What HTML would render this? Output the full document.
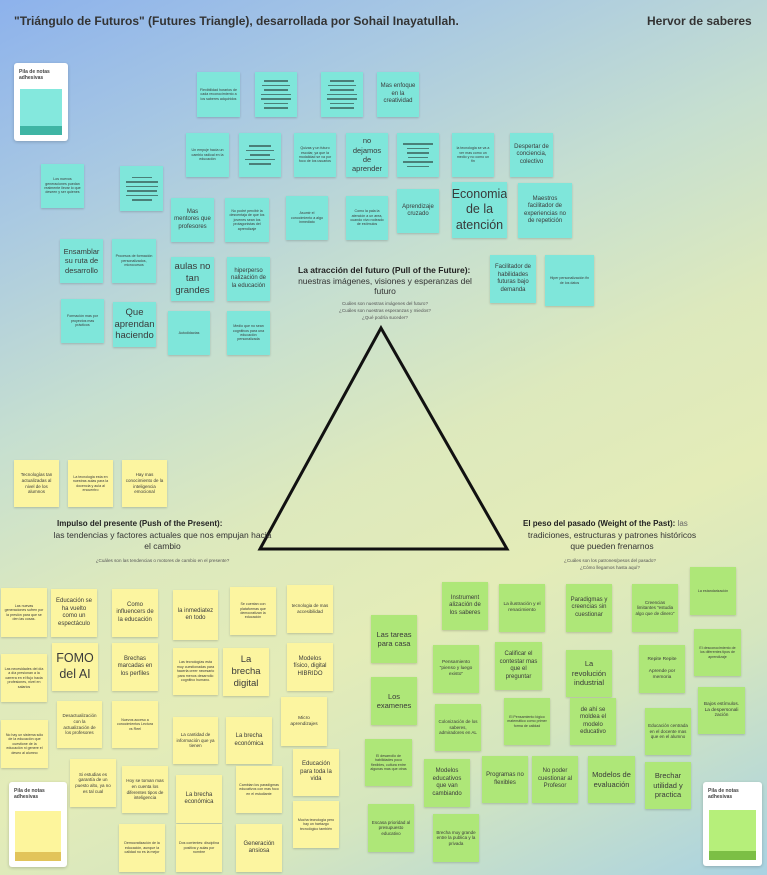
<!DOCTYPE html>
<html><head><meta charset="utf-8"><style>
*{margin:0;padding:0;box-sizing:border-box}
body{width:767px;height:875px;overflow:hidden;position:relative;font-family:"Liberation Sans",sans-serif;color:#333;
background:linear-gradient(155deg,#8db2ec 0%,#a9c9e2 18%,#c6dfd0 36%,#dde9bd 52%,#e4ecb8 66%,#d5e6bf 80%,#a9d2e2 100%);}
.n{position:absolute;display:flex;align-items:center;justify-content:center;text-align:center;line-height:1.25;padding:2px 3px;box-shadow:0 1px 2px rgba(0,0,0,.18);color:#3a3a3a;overflow:hidden;overflow-wrap:break-word}
.t{background:#7fe6da}.y{background:#fcf5a0}.g{background:#aee778}
.s{font-size:3.6px}.m{font-size:6px}.l{font-size:7.5px}.xl{font-size:9.5px}.xxl{font-size:12.5px}
.bars{flex-direction:column;gap:3px}.bars i{display:block;height:1.5px;background:#4a7f78}
.pile{position:absolute;background:#fff;border-radius:3px;box-shadow:0 1px 3px rgba(0,0,0,.2);font-size:5px;font-weight:bold;color:#444;padding:6px 5px}
.pile div{position:absolute;left:6px;right:6px;bottom:6px;height:46px}
.h{position:absolute;white-space:nowrap}
</style></head><body>
<div class="h" style="left:14px;top:14px;font-size:12px;font-weight:bold;color:#333">"Triángulo de Futuros" (Futures Triangle), desarrollada por Sohail Inayatullah.</div>
<div class="h" style="left:647px;top:14px;font-size:12px;font-weight:bold;color:#333">Hervor de saberes</div>

<div class="pile" style="left:14px;top:63px;width:54px;height:78px">Pila de notas<br>adhesivas<div style="background:linear-gradient(#84e8dd 80%,#3fb5a4 80%)"></div></div>

<div class="n t s" style="left:197px;top:72px;width:43px;height:45px">Flexibilidad horarios de cada reconocimiento a los saberes adquiridos</div>
<div class="n t bars" style="left:255px;top:72px;width:42px;height:45px"><i style="width:24px"></i><i style="width:28px"></i><i style="width:24px"></i><i style="width:30px"></i><i style="width:30px"></i><i style="width:24px"></i><i style="width:24px"></i></div>
<div class="n t bars" style="left:321px;top:72px;width:42px;height:45px"><i style="width:24px"></i><i style="width:28px"></i><i style="width:24px"></i><i style="width:30px"></i><i style="width:30px"></i><i style="width:24px"></i><i style="width:24px"></i></div>
<div class="n t m" style="left:377px;top:72px;width:42px;height:45px">Mas enfoque en la creatividad</div>

<div class="n t s" style="left:186px;top:133px;width:43px;height:44px">Un empuje hacia un cambio radical en la educación</div>
<div class="n t bars" style="left:239px;top:133px;width:42px;height:44px"><i style="width:22px"></i><i style="width:28px"></i><i style="width:20px"></i><i style="width:30px"></i><i style="width:22px"></i></div>
<div class="n t s" style="left:294px;top:133px;width:42px;height:44px">Quizas y un futuro escolar, ya que la modalidad se va por foco de los usuarios</div>
<div class="n t l" style="left:346px;top:133px;width:42px;height:44px">no dejamos de aprender</div>
<div class="n t bars" style="left:397px;top:133px;width:42px;height:44px"><i style="width:30px"></i><i style="width:22px"></i><i style="width:22px"></i><i style="width:20px"></i><i style="width:30px"></i><i style="width:22px"></i></div>
<div class="n t s" style="left:452px;top:133px;width:42px;height:44px">la tecnologia se va a ver mas como un medio y no como un fin</div>
<div class="n t m" style="left:510px;top:133px;width:43px;height:44px">Despertar de conciencia, colectivo</div>

<div class="n t s" style="left:41px;top:164px;width:43px;height:44px">Los nuevos generaciones puedan realmente llevar lo que deseen y ser quienes</div>
<div class="n t bars" style="left:120px;top:166px;width:43px;height:45px"><i style="width:20px"></i><i style="width:32px"></i><i style="width:32px"></i><i style="width:30px"></i><i style="width:32px"></i><i style="width:20px"></i></div>
<div class="n t m" style="left:171px;top:198px;width:43px;height:44px">Mas mentores que profesores</div>
<div class="n t s" style="left:225px;top:198px;width:44px;height:44px">No podré percibir la desventaja de que los jovenes sean los protagonistas del aprendizaje</div>
<div class="n t s" style="left:286px;top:196px;width:42px;height:44px">Asumir el conocimiento a algo inmediato</div>
<div class="n t s" style="left:346px;top:196px;width:42px;height:44px">Como la pala la atención a un area, cuando vivo rodeado de estímulos</div>
<div class="n t m" style="left:397px;top:189px;width:42px;height:44px">Aprendizaje cruzado</div>
<div class="n t xxl" style="left:452px;top:182px;width:55px;height:56px">Economia de la atención</div>
<div class="n t m" style="left:518px;top:183px;width:54px;height:55px">Maestros facilitador de experiencias no de repetición</div>

<div class="n t l" style="left:60px;top:239px;width:43px;height:44px">Ensamblar su ruta de desarrollo</div>
<div class="n t s" style="left:112px;top:239px;width:44px;height:44px">Procesos de formación personalizados, microcursos</div>
<div class="n t xl" style="left:171px;top:257px;width:43px;height:44px">aulas no tan grandes</div>
<div class="n t m" style="left:227px;top:257px;width:43px;height:44px">hiperperso nalización de la educación</div>
<div class="n t s" style="left:61px;top:299px;width:43px;height:44px">Formación mas por proyectos mas prácticos</div>
<div class="n t xl" style="left:113px;top:302px;width:43px;height:45px">Que aprendan haciendo</div>
<div class="n t s" style="left:168px;top:311px;width:42px;height:44px">Autodidactas</div>
<div class="n t s" style="left:227px;top:311px;width:43px;height:44px">Medio que no sean cognitivos para una educación personalizada</div>
<div class="n t m" style="left:490px;top:255px;width:46px;height:48px">Facilitador de habilidades futuras bajo demanda</div>
<div class="n t s" style="left:545px;top:255px;width:49px;height:51px">Hiper personalización fin de los datos</div>

<div class="h" style="left:298px;top:265px;font-size:8.5px;font-weight:bold;color:#222">La atracción del futuro (Pull of the Future):</div>
<div class="h" style="left:297px;top:276px;width:176px;white-space:normal;text-align:center;font-size:8.5px;line-height:10px;color:#333">nuestras imágenes, visiones y esperanzas del futuro</div>
<div class="h" style="left:300px;top:300px;width:170px;white-space:normal;text-align:center;font-size:4.6px;line-height:7px;color:#555">Cuáles son nuestras imágenes del futuro?<br>¿Cuáles son nuestras esperanzas y miedos?<br>¿Qué podría suceder?</div>

<svg style="position:absolute;left:0;top:0" width="767" height="875"><polygon points="381,328 260,549 507,549" fill="none" stroke="#111" stroke-width="3"/></svg>

<div class="n y s" style="left:14px;top:460px;width:45px;height:47px;font-size:4.5px">Tecnologías tan actualizadas al nivel de los alumnos</div>
<div class="n y s" style="left:68px;top:460px;width:45px;height:47px">La tecnologia esta en nuestras aulas para la docencia y aula al encuentro</div>
<div class="n y s" style="left:122px;top:460px;width:45px;height:47px;font-size:4.5px">Hay mas conocimiento de la inteligencia emocional</div>

<div class="h" style="left:57px;top:519px;font-size:8px;font-weight:bold;color:#222">Impulso del presente (Push of the Present):</div>
<div class="h" style="left:50px;top:530px;width:225px;white-space:normal;text-align:center;font-size:8.5px;line-height:11px;color:#333">las tendencias y factores actuales que nos empujan hacia el cambio</div>
<div class="h" style="left:70px;top:557px;width:185px;white-space:normal;text-align:center;font-size:4.6px;line-height:7px;color:#555">¿Cuáles son las tendencias o motores de cambio en el presente?</div>

<div class="h" style="left:523px;top:519px;font-size:8px;font-weight:bold;color:#222">El peso del pasado (Weight of the Past): <span style="font-weight:normal;color:#666">las</span></div>
<div class="h" style="left:527px;top:530px;width:170px;white-space:normal;text-align:center;font-size:8.5px;line-height:11px;color:#333">tradiciones, estructuras y patrones históricos que pueden frenarnos</div>
<div class="h" style="left:535px;top:557px;width:150px;white-space:normal;text-align:center;font-size:4.6px;line-height:7px;color:#555">¿Cuáles son los patrones/pesos del pasado?<br>¿Cómo llegamos hasta aquí?</div>

<div class="n y s" style="left:1px;top:588px;width:46px;height:49px">Las nuevas generaciones sufren por la presión para que se den las cosas.</div>
<div class="n y m" style="left:51px;top:589px;width:46px;height:48px">Educación se ha vuelto como un espectáculo</div>
<div class="n y m" style="left:112px;top:589px;width:46px;height:48px">Como influencers de la educación</div>
<div class="n y m" style="left:173px;top:590px;width:45px;height:50px">la inmediatez en todo</div>
<div class="n y s" style="left:230px;top:587px;width:46px;height:48px">Se cuentan con plataformas que democratizan la educación</div>
<div class="n y s" style="left:287px;top:585px;width:46px;height:48px;font-size:4.5px">tecnologia de mas accesibilidad</div>
<div class="n y s" style="left:1px;top:654px;width:46px;height:48px">Las necesidades del día a día presionan a la carrera en el flujo hacia profesiones, nivel en salarios</div>
<div class="n y xxl" style="left:52px;top:643px;width:46px;height:48px">FOMO del AI</div>
<div class="n y m" style="left:112px;top:643px;width:46px;height:48px">Brechas marcadas en los perfiles</div>
<div class="n y s" style="left:173px;top:648px;width:45px;height:47px">Las tecnologías esta muy cuestionadas para hacerla creer necesario para menos desarrollo cognitivo humano.</div>
<div class="n y xl" style="left:223px;top:648px;width:46px;height:48px">La brecha digital</div>
<div class="n y m" style="left:287px;top:643px;width:46px;height:48px">Modelos físico, digital HIBRIDO</div>
<div class="n y s" style="left:1px;top:720px;width:47px;height:48px">No hay un sistema sólo de la educación que cuestione de la educación ni genere el deseo al alumno</div>
<div class="n y s" style="left:57px;top:701px;width:45px;height:47px;font-size:4.5px">Desactualización con la actualización de los profesores</div>
<div class="n y s" style="left:112px;top:701px;width:46px;height:47px">Nuevos acceso a conocimientos Lectura vs Reel</div>
<div class="n y s" style="left:173px;top:717px;width:45px;height:47px;font-size:4.5px">La cantidad de información que ya tienen</div>
<div class="n y m" style="left:226px;top:717px;width:46px;height:47px">La brecha económica</div>
<div class="n y s" style="left:281px;top:697px;width:46px;height:49px;font-size:4.8px">Micro aprendizajes</div>
<div class="n y s" style="left:70px;top:759px;width:46px;height:48px;font-size:4.5px">Si estudias es garantía de un puesto alto, ya no es tal cual</div>
<div class="n y s" style="left:122px;top:766px;width:46px;height:47px;font-size:4.5px">Hoy se toman mas en cuenta los diferentes tipos de inteligencia</div>
<div class="n y m" style="left:176px;top:775px;width:46px;height:48px">La brecha económica</div>
<div class="n y s" style="left:236px;top:766px;width:46px;height:47px">Cambian los paradigmas educativos con mas foco en el estudiante</div>
<div class="n y m" style="left:293px;top:749px;width:46px;height:47px">Educación para toda la vida</div>
<div class="n y s" style="left:293px;top:801px;width:46px;height:47px">Mucha tecnologia pero hay un hartazgo tecnológico también</div>
<div class="n y s" style="left:119px;top:824px;width:46px;height:48px">Democratización de la educación, aunque la calidad no es la mejor</div>
<div class="n y s" style="left:176px;top:824px;width:46px;height:48px">Dos corrientes: disciplina positiva y aulas por nombre</div>
<div class="n y m" style="left:236px;top:824px;width:46px;height:48px">Generación ansiosa</div>
<div class="pile" style="left:9px;top:782px;width:58px;height:85px">Pila de notas<br>adhesivas<div style="height:50px;background:linear-gradient(#fdf59c 82%,#e2c45a 82%)"></div></div>

<div class="n g m" style="left:442px;top:582px;width:46px;height:48px">Instrument alización de los saberes</div>
<div class="n g s" style="left:499px;top:584px;width:46px;height:48px;font-size:4.8px">La ilustración y el renacimiento</div>
<div class="n g m" style="left:566px;top:584px;width:46px;height:48px">Paradigmas y creencias sin cuestionar</div>
<div class="n g s" style="left:632px;top:584px;width:46px;height:48px;font-size:4.5px">Creencias limitantes "estudia algo que de dinero"</div>
<div class="n g s" style="left:690px;top:567px;width:46px;height:48px">La estandarización</div>
<div class="n g l" style="left:371px;top:615px;width:46px;height:48px">Las tareas para casa</div>
<div class="n g s" style="left:433px;top:645px;width:46px;height:48px;font-size:4.8px">Pensamiento "pienso y luego existo"</div>
<div class="n g m" style="left:495px;top:642px;width:47px;height:48px">Calificar el contestar mas que el preguntar</div>
<div class="n g l" style="left:566px;top:650px;width:46px;height:47px">La revolución industrial</div>
<div class="n g s" style="left:639px;top:645px;width:46px;height:48px;font-size:4.8px">Repite Repite<br><br>Aprende por memoria</div>
<div class="n g s" style="left:694px;top:629px;width:47px;height:47px">El desconocimiento de los diferentes tipos de aprendizaje</div>
<div class="n g l" style="left:371px;top:677px;width:46px;height:48px">Los examenes</div>
<div class="n g s" style="left:435px;top:704px;width:46px;height:47px;font-size:4.5px">Colonización de los saberes, admiradores en AL</div>
<div class="n g s" style="left:504px;top:698px;width:46px;height:47px">El Pensamiento lógico matemático como primer forma de calidad</div>
<div class="n g m" style="left:570px;top:698px;width:46px;height:47px">de ahí se moldea el modelo educativo</div>
<div class="n g s" style="left:645px;top:708px;width:46px;height:47px;font-size:4.5px">Educación centrada en el docente mas que en el alumno</div>
<div class="n g s" style="left:698px;top:687px;width:47px;height:47px;font-size:4.8px">Bajos estímulos. La despersonali zación</div>
<div class="n g s" style="left:365px;top:739px;width:47px;height:47px">El desarrollo de habilidades poco flexibles, cultura entre algunas mas que otras</div>
<div class="n g m" style="left:424px;top:759px;width:46px;height:48px">Modelos educativos que van cambiando</div>
<div class="n g m" style="left:482px;top:756px;width:46px;height:47px">Programas no flexibles</div>
<div class="n g m" style="left:532px;top:756px;width:46px;height:47px">No poder cuestionar al Profesor</div>
<div class="n g l" style="left:588px;top:756px;width:47px;height:47px">Modelos de evaluación</div>
<div class="n g l" style="left:645px;top:762px;width:46px;height:47px">Brechar utilidad y practica</div>
<div class="n g s" style="left:368px;top:804px;width:46px;height:48px;font-size:4.5px">Escasa prioridad al presupuesto educativo</div>
<div class="n g s" style="left:433px;top:814px;width:46px;height:48px;font-size:4.5px">Brecha muy grande entre la publica y la privada</div>
<div class="pile" style="left:703px;top:782px;width:59px;height:84px">Pila de notas<br>adhesivas<div style="height:50px;background:linear-gradient(#b6ef7a 82%,#7cbf45 82%)"></div></div>
</body></html>
